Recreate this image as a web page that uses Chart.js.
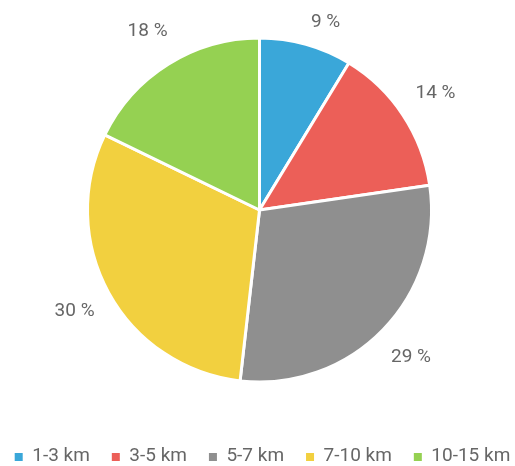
<!DOCTYPE html>
<html>
<head>
<meta charset="utf-8">
<script src="https://cdn.jsdelivr.net/npm/chart.js@4/dist/chart.umd.min.js"></script>
<style>
  html, body { margin: 0; padding: 0; background: #fff; }
  #wrap { width: 515px; height: 466px; position: relative; }
</style>
</head>
<body>
<div id="wrap"><canvas id="pieChart"></canvas></div>
<script>
const categories = ['1-3 km', '3-5 km', '5-7 km', '7-10 km', '10-15 km'];
const shares = [8.7, 14, 29.1, 30.4, 17.8];
const colors = ['#3aa7d9', '#ec5f58', '#8f8f8f', '#f2d03f', '#95d152'];

const FONT = { family: 'Roboto', size: 19 };
const TEXT = '#666666';

// percent labels outside each slice
const sliceLabels = {
  id: 'sliceLabels',
  afterDatasetsDraw(chart) {
    const ctx = chart.ctx;
    const meta = chart.getDatasetMeta(0);
    const total = shares.reduce((a, b) => a + b, 0);
    ctx.save();
    ctx.font = FONT.size + 'px ' + FONT.family;
    ctx.fillStyle = TEXT;
    ctx.textAlign = 'center';
    ctx.textBaseline = 'middle';
    meta.data.forEach((arc, i) => {
      const mid = (arc.startAngle + arc.endAngle) / 2;
      const r = arc.outerRadius + 39;
      let x = arc.x + Math.cos(mid) * r;
      let y = arc.y + Math.sin(mid) * r;
      if (y < 22) { x += (22 - y) * 0.6; y = 22; } // keep inside the canvas
      ctx.fillText(Math.round(shares[i] / total * 100) + ' %', x, y);
    });
    ctx.restore();
  }
};

// legend row at the bottom, square markers
const bottomLegend = {
  id: 'bottomLegend',
  afterDraw(chart) {
    const ctx = chart.ctx;
    const box = 8, gap = 9.5, spacing = 22;
    ctx.save();
    ctx.font = FONT.size + 'px ' + FONT.family;
    ctx.textBaseline = 'middle';
    ctx.textAlign = 'left';
    const widths = categories.map(c => box + gap + ctx.measureText(c).width);
    const total = widths.reduce((a, b) => a + b, 0) + spacing * (categories.length - 1);
    let x = (chart.width - total) / 2 + 5;
    const y = 456;
    categories.forEach((c, i) => {
      ctx.fillStyle = colors[i];
      ctx.fillRect(x, y - box / 2 + 1, box, box);
      ctx.fillStyle = TEXT;
      ctx.fillText(c, x + box + gap, y);
      x += widths[i] + spacing;
    });
    ctx.restore();
  }
};

new Chart(document.getElementById('pieChart'), {
  type: 'pie',
  data: {
    labels: categories,
    datasets: [{
      data: shares,
      backgroundColor: colors,
      borderColor: '#ffffff',
      borderWidth: 3
    }]
  },
  options: {
    responsive: true,
    maintainAspectRatio: false,
    animation: false,
    radius: 172,
    layout: { padding: { top: 0, bottom: 46, left: 4, right: 0 } },
    plugins: {
      legend: { display: false },
      tooltip: { enabled: false }
    }
  },
  plugins: [sliceLabels, bottomLegend]
});
</script>
</body>
</html>
